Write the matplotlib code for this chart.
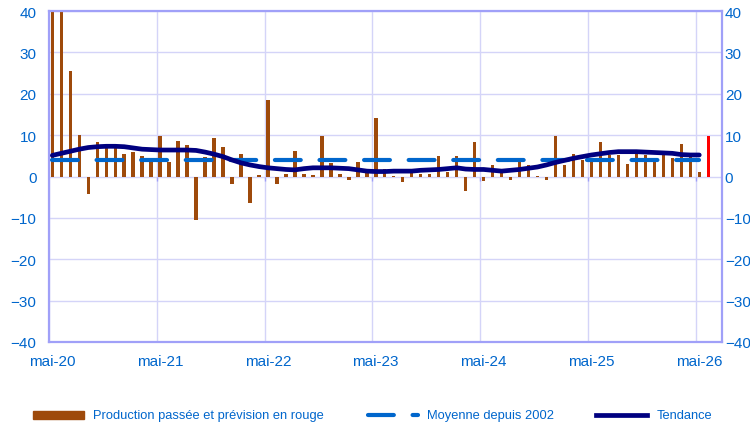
import matplotlib
matplotlib.use("Agg")
import matplotlib.pyplot as plt
from matplotlib.lines import Line2D
from matplotlib.patches import Rectangle
import numpy as np

plt.rcParams['font.family'] = ['Liberation Sans', 'DejaVu Sans']

# Monthly production change (mai-20 .. mai-26), last value is the forecast (red)
production = [45.0, 50.0, 25.5, 10.0, -4.2, 8.4, 6.9, 7.9, 5.5, 6.0, 5.0, 3.5,
              9.7, 3.5, 8.7, 7.7, -10.5, 4.8, 9.4, 7.1, -1.8, 5.5, -6.3, 0.4,
              18.4, -1.8, 0.6, 6.1, 0.6, 0.3, 9.7, 3.2, 0.6, -0.8, 3.5, 0.9,
              14.2, 1.9, 0.2, -1.4, 0.8, 0.6, 0.6, 4.9, 1.0, 4.9, -3.6, 8.4,
              -1.1, 2.9, 1.9, -0.8, 3.4, 2.9, 0.2, -0.8, 9.7, 2.7, 5.5, 4.1,
              3.5, 8.4, 5.2, 5.2, 3.0, 6.5, 5.2, 3.5, 5.2, 4.5, 7.8, 4.6,
              1.0]
forecast = [9.8]

trend = [5.1, 5.6, 6.1, 6.6, 7.0, 7.2, 7.3, 7.3, 7.2, 6.9, 6.6, 6.5,
         6.4, 6.4, 6.4, 6.4, 6.3, 5.9, 5.4, 4.8, 4.0, 3.3, 2.8, 2.4,
         2.1, 1.9, 1.7, 1.6, 1.9, 2.1, 2.1, 2.1, 2.0, 1.9, 1.6, 1.3,
         1.2, 1.2, 1.3, 1.3, 1.3, 1.5, 1.6, 1.7, 1.9, 2.1, 1.8, 1.7,
         1.7, 1.5, 1.3, 1.5, 1.7, 2.0, 2.3, 2.8, 3.4, 3.9, 4.4, 4.8,
         5.2, 5.5, 5.8, 6.0, 6.0, 6.0, 5.9, 5.8, 5.7, 5.6, 5.3, 5.2,
         5.2]
average = 3.9

year_labels = ['mai-20', 'mai-21', 'mai-22', 'mai-23', 'mai-24', 'mai-25', 'mai-26']
y_ticks = [-40, -30, -20, -10, 0, 10, 20, 30, 40]

BROWN = '#9E4A0B'
RED = '#FF0000'
NAVY = '#000080'
BLUE = '#0066CC'
FRAME = '#A0A0F8'
GRID = '#D4D4F8'
TXT = '#0066CC'
DASH = (0, (6.2, 4.5))

W, H = 750, 427
fig = plt.figure(figsize=(W / 100, H / 100), dpi=100)
ax = fig.add_axes([49 / W, 1 - 343 / H, (722 - 49) / W, (343 - 12) / H])

off = 0.37
x = np.arange(len(production)) + off
xf = np.arange(len(production), len(production) + len(forecast)) + off

ax.bar(x, production, width=0.38, color=BROWN, zorder=2)
ax.bar(xf, forecast, width=0.38, color=RED, zorder=2)
ax.plot(x, [average] * len(x), color=BLUE, lw=3.0, linestyle=DASH,
        dash_capstyle='round', solid_capstyle='round', zorder=3)
ax.plot(x, trend, color=NAVY, lw=3.4, solid_capstyle='round', zorder=4)

year_pos = np.arange(0, 73, 12)
ax.set_xlim(0, 74.9)
ax.set_ylim(-40, 40)
ax.set_yticks(y_ticks)
ax.set_xticks(year_pos)
ax.set_xticks(year_pos + off, minor=True)
ax.set_xticklabels([])
ax.set_xticklabels(year_labels, minor=True)
ax.tick_params(axis='x', which='both', length=0)
ax.tick_params(axis='x', which='minor', pad=9, labelsize=11, labelcolor=TXT)
ax.tick_params(axis='y', length=0, labelsize=11, labelcolor=TXT, pad=9)

# small tick marks on the zero line at year boundaries
ax.vlines(year_pos[1:], -1.0, 0, color=FRAME, lw=1.0, zorder=1)

ax.grid(True, which='major', color=GRID, lw=1.0, zorder=0)
ax.set_axisbelow(True)
for s in ax.spines.values():
    s.set_color(FRAME)
    s.set_linewidth(1.6)

ax2 = ax.twinx()
ax2.set_ylim(-40, 40)
ax2.set_yticks(y_ticks)
ax2.tick_params(axis='y', length=0, labelsize=11, labelcolor=TXT, pad=2)
for s in ax2.spines.values():
    s.set_visible(False)

# Legend drawn in figure coordinates
def fx(px):
    return px / W

def fy(py):
    return 1 - py / H

ly = 416
fig.add_artist(Rectangle((fx(33), fy(ly + 4)), fx(51), 8 / H, color=BROWN,
                         transform=fig.transFigure))
fig.text(fx(93), fy(ly), 'Production passée et prévision en rouge', color=TXT,
         fontsize=9.3, va='center', ha='left')
fig.add_artist(Line2D([fx(368), fx(418)], [fy(ly), fy(ly)], color=BLUE, lw=3.0,
                      linestyle=DASH, dash_capstyle='round',
                      transform=fig.transFigure))
fig.text(fx(427), fy(ly), 'Moyenne depuis 2002', color=TXT, fontsize=9.3,
         va='center', ha='left')
fig.add_artist(Line2D([fx(596), fx(647)], [fy(ly), fy(ly)], color=NAVY, lw=3.4,
                      transform=fig.transFigure))
fig.text(fx(657), fy(ly), 'Tendance', color=TXT, fontsize=9.3, va='center', ha='left')

fig.savefig('out.png', dpi=100)
